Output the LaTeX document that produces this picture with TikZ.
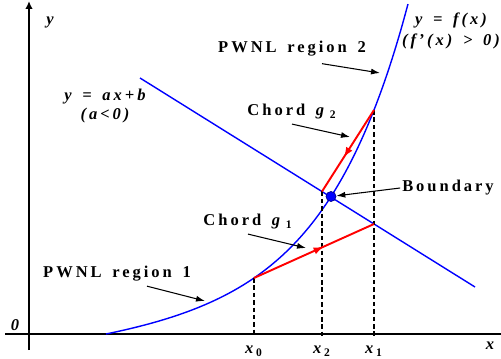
\documentclass[tikz,border=0pt]{standalone}
\usepackage{fontspec}
\setmainfont{Liberation Serif}[LetterSpace=18, WordSpace=1.5]
\usetikzlibrary{arrows.meta,decorations.markings}
\tikzset{
  axs/.style={black, line width=0.9pt},
  fcrv/.style={blue, line width=0.8pt},
  chrd/.style={red, line width=1.1pt, postaction={decorate, decoration={markings,
      mark=at position 0.58 with {\arrow{Latex[length=2mm,width=1.5mm]}}}}},
  drop/.style={black, line width=0.6pt, dash pattern=on 2.6pt off 1.6pt},
  ptr/.style={-{Latex[length=1.8mm,width=1.2mm]}, black, line width=0.6pt},
  lbl/.style={font=\fontsize{9.4}{11.3}\selectfont\bfseries, inner sep=1pt},
  mlbl/.style={lbl, font=\fontsize{9.4}{11.3}\selectfont\bfseries\itshape},
  bdot/.style={circle, fill=blue, draw=blue!55!black, inner sep=0pt, minimum size=2mm},
}

\begin{document}
\begin{tikzpicture}
  \useasboundingbox (-0.58,-0.48) rectangle (9.44,6.68);
  % axes
  \draw[axs] (-0.48,0) -- (9.44,0);
  \draw[axs, -{Latex[length=1.6mm,width=1.5mm]}] (0,-0.32) -- (0,6.66);
  \node[mlbl] (ylab) at (0.42,6.24) {y};
  \node[mlbl] (olab) at (-0.28,0.18) {0};
  \node[mlbl] (xlab) at (9.22,-0.24) {x};

  % points on f and on the line
  \coordinate (p0) at (4.5,1.12);
  \coordinate (p1) at (6.9,4.48);
  \coordinate (q1) at (6.9,2.20);
  \coordinate (q2) at (5.86,2.85);
  \coordinate (lnA) at (2.22,5.12);
  \coordinate (lnB) at (8.92,0.94);

  % f(x) and y = ax+b
  \draw[fcrv] plot[domain=1.54:7.58, samples=80, smooth]
    (\x, {0.163*(exp(0.6*(\x-1.54))-1) + 0.1082*(\x-1.54)});
  \draw[fcrv] (lnA) -- (lnB);

  % drop lines
  \draw[drop] (p0) -- (4.5,-0.04) node[mlbl, anchor=north, yshift=-1.6mm] (x0lab) {x\,\textsubscript{\upshape 0}};
  \draw[drop] (q2) -- (5.86,-0.04) node[mlbl, anchor=north, yshift=-1.6mm] (x2lab) {x\,\textsubscript{\upshape 2}};
  \draw[drop] (p1) -- (6.9,-0.04) node[mlbl, anchor=north, yshift=-1.6mm] (x1lab) {x\,\textsubscript{\upshape 1}};

  % chords
  \draw[chrd] (p0) -- (q1);
  \draw[chrd] (p1) -- (q2);
  \node[bdot] (dot) at (6.04,2.75) {};

  % labels
  \node[mlbl, align=center] (flab) at (8.44,6.06) {y = f(x)\\[1pt](f\kern1.5pt'(x) > 0)};
  \node[mlbl, align=center] (llab) at (1.52,4.56) {y = ax+b\\(a<0)};
  \node[lbl] (reg2) at (5.26,5.70) {PWNL region 2};
  \node[lbl] (chg2) at (5.26,4.44) {Chord \textit{g}\,\textsubscript{2}};
  \node[lbl] (bnd) at (8.38,2.92) {Boundary};
  \node[lbl] (chg1) at (4.38,2.24) {Chord \textit{g}\,\textsubscript{1}};
  \node[lbl] (reg1) at (1.76,1.20) {PWNL region 1};

  % pointers
  \coordinate (tr2) at (7.02,5.22);
  \coordinate (tg2) at (6.42,3.94);
  \coordinate (tg1) at (5.54,1.72);
  \coordinate (tr1) at (3.52,0.66);
  \draw[ptr] ([xshift=6mm,yshift=-1mm]reg2.south) -- (tr2);
  \draw[ptr] ([yshift=-0.5mm]chg2.south) -- (tg2);
  \draw[ptr] (bnd.west) -- (dot);
  \draw[ptr] ([yshift=-0.5mm]chg1.south) -- (tg1);
  \draw[ptr] ([xshift=6mm,yshift=-0.5mm]reg1.south) -- (tr1);
\end{tikzpicture}
\end{document}
